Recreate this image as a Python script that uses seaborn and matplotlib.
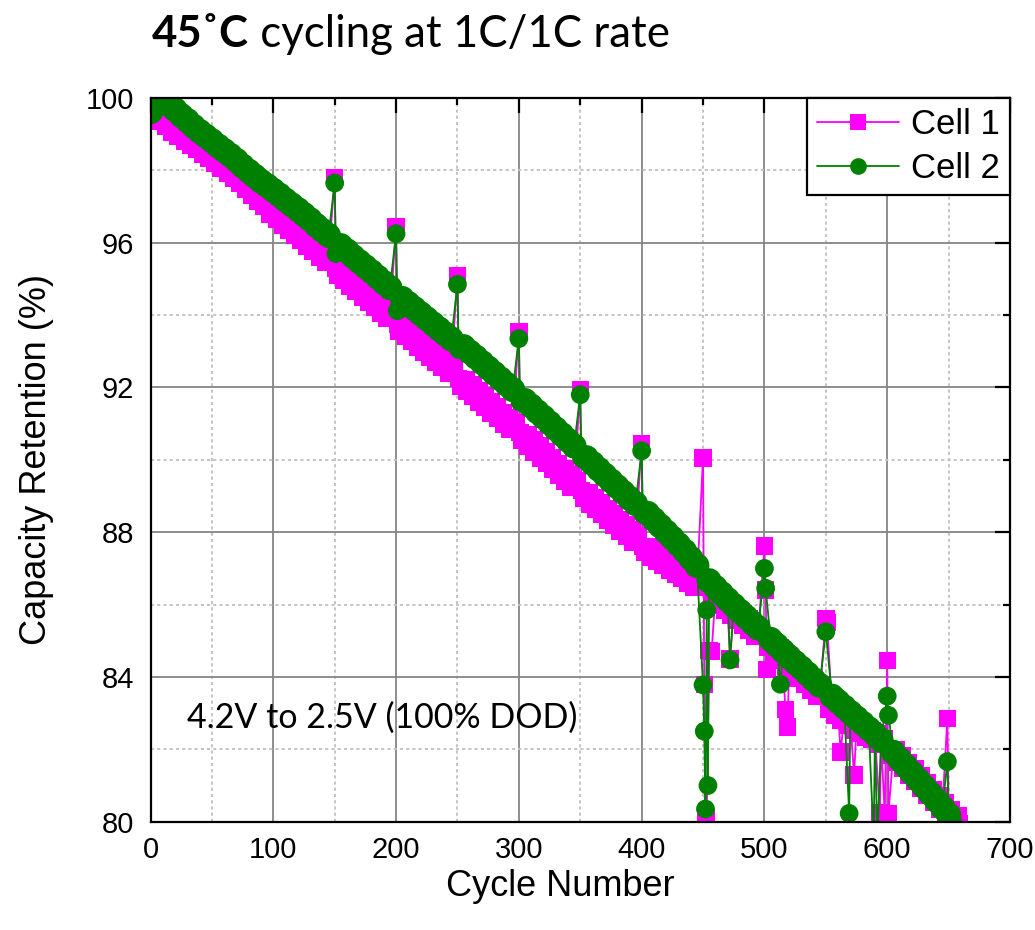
import matplotlib
matplotlib.use("Agg")
import numpy as np
import pandas as pd
import matplotlib.pyplot as plt
import seaborn as sns
from matplotlib.ticker import MultipleLocator
from matplotlib.lines import Line2D

# ---------------- data ----------------
cell1_base_start, cell1_base_step = 0, 5
cell1_base_values = [
    99.55, 99.60, 99.45, 99.30, 99.15, 99.02, 98.90, 98.78, 98.66, 98.54,
    98.42, 98.28, 98.14, 98.00, 97.86, 97.72, 97.56, 97.40, 97.24, 97.08,
    96.88, 96.73, 96.58, 96.43, 96.29, 96.14, 95.99, 95.84, 95.69, 95.54,
    95.34, 95.19, 95.04, 94.89, 94.74, 94.59, 94.44, 94.29, 94.14, 93.99,
    93.79, 93.64, 93.49, 93.35, 93.21, 93.07, 92.93, 92.78, 92.63, 92.48,
    92.28, 92.13, 91.98, 91.83, 91.68, 91.53, 91.38, 91.23, 91.08, 90.93,
    90.78, 90.62, 90.46, 90.30, 90.14, 89.98, 89.82, 89.66, 89.50, 89.34,
    89.18, 89.02, 88.87, 88.72, 88.57, 88.42, 88.27, 88.12, 87.97, 87.81,
    87.65, 87.52, 87.40, 87.28, 87.16, 87.04, 86.92, 86.80, 86.68, 86.56,
    86.48, 86.35, 86.22, 86.08, 85.94, 85.80, 85.66, 85.52, 85.37, 85.22,
    85.06, 84.90, 84.73, 84.56, 84.39, 84.22, 84.05, 83.88, 83.71, 83.54,
    83.37, 83.20, 83.04, 82.88, 82.74, 82.62, 82.52, 82.43, 82.35, 82.22,
    82.08, 81.91, 81.73, 81.55, 81.37, 81.19, 81.00, 80.81, 80.62, 80.43,
    80.25, 80.07,
]
cell1_extra_cycles = [150, 151, 200, 201, 250, 251, 300, 301, 350, 351, 400, 401,
                      450, 451, 452, 453, 455, 457, 472, 500, 501, 502, 517, 519,
                      550, 551, 562, 573, 594, 598, 600, 601, 649, 659]
cell1_extra_values = [97.80, 95.30, 96.45, 93.75, 95.10, 92.25, 93.55, 90.75, 91.95, 89.15, 90.45, 87.60,
                      90.05, 83.80, 80.10, 80.12, 84.74, 84.70, 84.50, 87.62, 86.40, 84.20, 83.10, 82.62,
                      85.62, 85.50, 81.93, 81.29, 80.25, 80.20, 84.46, 80.23, 82.86, 79.95]

cell2_base_start, cell2_base_step = 0, 5
cell2_base_values = [
    99.62, 99.92, 99.90, 99.82, 99.68, 99.52, 99.38, 99.22, 99.08, 98.95,
    98.82, 98.68, 98.55, 98.42, 98.28, 98.12, 97.98, 97.84, 97.70, 97.58,
    97.45, 97.32, 97.18, 97.05, 96.92, 96.78, 96.64, 96.48, 96.34, 96.20,
    96.05, 95.92, 95.78, 95.62, 95.48, 95.34, 95.20, 95.05, 94.90, 94.76,
    94.60, 94.46, 94.32, 94.18, 94.04, 93.90, 93.76, 93.62, 93.48, 93.34,
    93.28, 93.13, 92.98, 92.84, 92.69, 92.54, 92.39, 92.24, 92.09, 91.94,
    91.80, 91.64, 91.49, 91.33, 91.18, 91.02, 90.86, 90.70, 90.54, 90.38,
    90.22, 90.06, 89.90, 89.74, 89.58, 89.42, 89.26, 89.10, 88.94, 88.79,
    88.68, 88.52, 88.35, 88.18, 88.01, 87.84, 87.66, 87.48, 87.28, 87.08,
    86.86, 86.66, 86.48, 86.31, 86.14, 85.98, 85.82, 85.66, 85.50, 85.35,
    85.20, 85.04, 84.88, 84.72, 84.56, 84.40, 84.25, 84.09, 83.93, 83.77,
    83.62, 83.47, 83.32, 83.17, 83.02, 82.87, 82.72, 82.57, 82.42, 82.26,
    82.10, 81.92, 81.73, 81.54, 81.35, 81.16, 80.97, 80.78, 80.59, 80.39,
    80.19,
]
cell2_extra_cycles = [150, 151, 200, 201, 250, 251, 300, 301, 350, 351, 400, 401,
                      450, 451, 452, 453, 454, 472, 500, 501, 513, 550, 559,
                      569, 571, 589, 592, 600, 601, 649, 653]
cell2_extra_values = [97.65, 95.70, 96.25, 94.12, 94.85, 93.05, 93.35, 91.60, 91.80, 90.05, 90.25, 88.50,
                      83.78, 82.50, 80.35, 85.85, 81.00, 84.47, 87.00, 86.45, 83.80, 85.25, 83.45,
                      80.23, 83.05, 79.50, 79.50, 83.47, 82.94, 81.66, 80.05]

series_names = ["Cell 1", "Cell 2"]
series_colors = ["#FF00FF", "#008000"]
series_markers = ["s", "o"]

title_bold = "45˚C"
title_rest = " cycling at 1C/1C rate"
annotation = "4.2V to 2.5V (100% DOD)"
x_label = "Cycle Number"
y_label = "Capacity Retention (%)"


def build(start, step, base, ecyc, evals, name):
    d = {start + i * step: (v, "band") for i, v in enumerate(base)}
    for c, v in zip(ecyc, evals):
        d[c] = (v, "single")
    cyc = sorted(d)
    return pd.DataFrame({"cycle": cyc,
                         "value": [d[c][0] for c in cyc],
                         "kind": [d[c][1] for c in cyc],
                         "cell": name})


df1 = build(cell1_base_start, cell1_base_step, cell1_base_values,
            cell1_extra_cycles, cell1_extra_values, series_names[0])
df2 = build(cell2_base_start, cell2_base_step, cell2_base_values,
            cell2_extra_cycles, cell2_extra_values, series_names[1])

# ---------------- style ----------------
sns.set_theme(style="white")
plt.rcParams['font.family'] = ['Liberation Sans', 'DejaVu Sans']

fig = plt.figure(figsize=(10.35, 9.3), dpi=100)
ax = fig.add_axes([150.5 / 1035, 1 - 821.7 / 930, (1010 - 150.5) / 1035, (821.7 - 98) / 930])

# marker areas (pt^2): dense band points vs. isolated points
specs = [(df1, series_colors[0], series_markers[0], {"band": 17.0 ** 2, "single": 12.5 ** 2}, 2.0),
         (df2, series_colors[1], series_markers[1], {"band": 18.0 ** 2, "single": 13.5 ** 2}, 2.2)]
for df, col, mk, sz, z in specs:
    sns.lineplot(data=df, x="cycle", y="value", ax=ax, color=col, linewidth=1.3,
                 estimator=None, sort=True, legend=False, zorder=z)
    sns.scatterplot(data=df, x="cycle", y="value", ax=ax, color=col, marker=mk,
                    size="kind", sizes=sz, linewidth=0, legend=False, zorder=z + 0.1)

ax.set_xlim(0, 700)
ax.set_ylim(80, 100)
ax.xaxis.set_major_locator(MultipleLocator(100))
ax.xaxis.set_minor_locator(MultipleLocator(50))
ax.yaxis.set_major_locator(MultipleLocator(4))
ax.yaxis.set_minor_locator(MultipleLocator(2))

ax.set_axisbelow(True)
ax.grid(which="major", color="#858585", linewidth=1.3, linestyle="-")
ax.grid(which="minor", color="#c4c4c4", linewidth=1.4, linestyle=(0, (1.6, 1.6)))

for s in ax.spines.values():
    s.set_color("black")
    s.set_linewidth(1.6)

ax.tick_params(which="both", direction="in", top=True, right=True, color="black",
               width=1.6, labelsize=21, labelcolor="black")
ax.tick_params(which="major", length=11)
ax.tick_params(which="minor", length=5)
ax.tick_params(axis="x", which="major", pad=10)
ax.tick_params(axis="y", which="major", pad=12)

ax.set_xlabel(x_label, fontsize=26, color="black")
ax.set_ylabel(y_label, fontsize=26, color="black")
ax.xaxis.set_label_coords(0.477, -0.066)
ax.yaxis.set_label_coords(-0.112, 0.5)

handles = [Line2D([], [], color=series_colors[0], marker="s", markersize=11, markeredgewidth=0, linewidth=1.3),
           Line2D([], [], color=series_colors[1], marker="o", markersize=12, markeredgewidth=0, linewidth=1.3)]
leg = ax.legend(handles, series_names, loc="upper right", fontsize=25, frameon=True,
                fancybox=False, borderaxespad=0, borderpad=0.3, handletextpad=0.35,
                handlelength=2.35, labelspacing=0.3)
leg.get_frame().set_edgecolor("black")
leg.get_frame().set_linewidth(1.6)
leg.get_frame().set_alpha(1)
leg.set_zorder(5)
for t in leg.get_texts():
    t.set_color("black")

ax.text(30, 82.86, annotation, fontsize=24.5, family=["Lato", "DejaVu Sans"],
        ha="left", va="center", color="black")

# title: bold part followed by regular part
t1 = fig.text(152 / 1035, 1 - 47 / 930, title_bold, fontsize=31.5, fontweight="bold",
              family=["Lato", "DejaVu Sans"], ha="left", va="baseline", color="black")
fig.canvas.draw()
bb = t1.get_window_extent(renderer=fig.canvas.get_renderer())
fig.text(bb.x1 / fig.bbox.width, 1 - 47 / 930, title_rest, fontsize=31.5,
         family=["Lato", "DejaVu Sans"], ha="left", va="baseline", color="black")

fig.savefig("out.png", dpi=100)
